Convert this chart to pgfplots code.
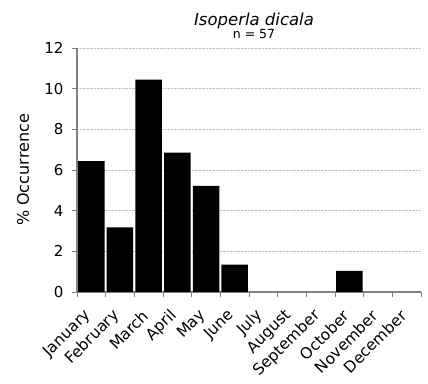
\documentclass[border=0pt]{standalone}
\usepackage{pgfplots}
\pgfplotsset{compat=1.18}
\usepackage{fontspec}
\setmainfont{DejaVu Sans}
\begin{document}
\begin{tikzpicture}
\begin{axis}[
    scale only axis,
    width=344pt, height=244pt,
    ybar, bar width=26.5pt,
    xmin=0.5, xmax=12.5,
    ymin=0, ymax=12,
    xtick={1,...,12},
    xticklabels={January,February,March,April,May,June,July,August,September,October,November,December},
    x tick label style={font=\fontsize{15.5}{18}\selectfont, inner sep=0pt, anchor=east, xshift=-3pt, yshift=-21pt, rotate=45},
    minor xtick={0.5,1.5,...,12.5},
    ytick={0,2,...,12},
    minor ytick={0,2,...,12},
    y tick label style={font=\fontsize{15}{17}\selectfont, xshift=-10pt},
    major tick length=0pt, minor tick length=5pt,
    tick align=outside,
    tick style={gray, line width=0.8pt},
    axis lines*=left,
    axis line style={gray, line width=1.2pt},
    ymajorgrids,
    major grid style={densely dotted, gray!50},
    /pgf/number format/assume math mode=true,
    ylabel={\% Occurrence},
    ylabel style={font=\fontsize{16}{18}\selectfont, at={(axis description cs:-0.157,0.5)}, anchor=center},
    title={\textit{Isoperla dicala}\\[-4pt]{\fontsize{12.5}{14}\selectfont n = 57}},
    title style={align=center, font=\fontsize{16.5}{17}\selectfont, xshift=5pt},
]
% months with 0 % are left out so that no hairline is drawn on the axis
\addplot[fill=black, draw=none] coordinates {
    (1,6.44) (2,3.18) (3,10.44) (4,6.85) (5,5.22) (6,1.35) (10,1.04)
};
\end{axis}
\pgfresetboundingbox
\path ([shift={(-77pt,-92pt)}]current axis.south west) rectangle ([shift={(7pt,48pt)}]current axis.north east);
\end{tikzpicture}
\end{document}
